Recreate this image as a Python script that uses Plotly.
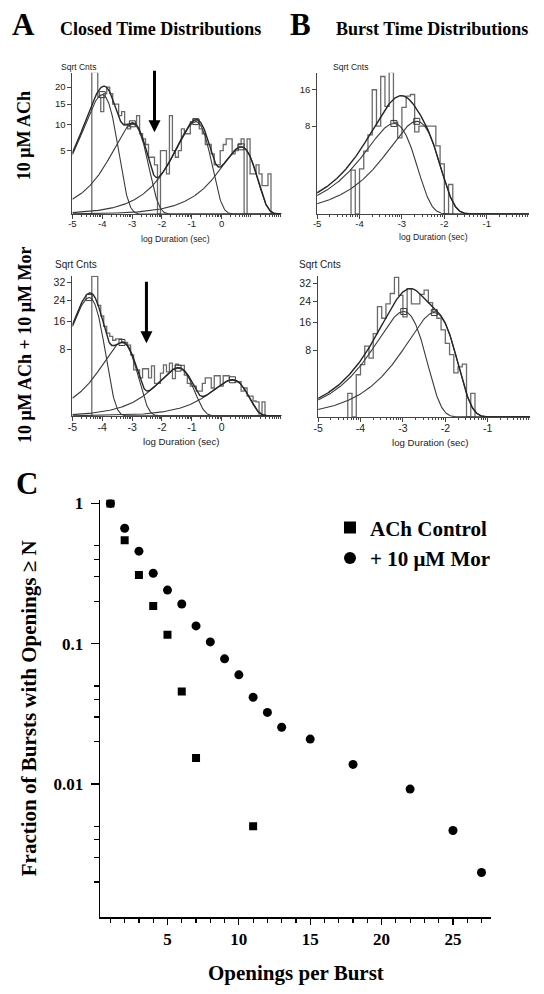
import numpy as np
import plotly.graph_objects as go

W, H = 544, 994
SERIF = "Liberation Serif, Times New Roman, serif"
SANS = "Liberation Sans, Arial, sans-serif"

# ---------------- Data ----------------
BIN_W = 0.1
# Panel A, 10 uM ACh: closed time histogram (counts per bin), bins start at A1_BIN0
A1_BIN0 = -4.35
A1_counts = [25, 25, 17, 13, 18, 20, 18, 15, 15, 12, 13, 10, 9, 10, 10, 12, 8, 7, 6, 4,
             4, 3, 0, 5, 5, 2, 12, 5, 4, 5, 9, 8, 8, 10.6, 11, 11, 9, 8, 6, 6,
             4.5, 3, 3, 5, 6, 7, 7, 4.5, 5, 6, 7, 0, 7, 2, 2, 3, 2, 1, 1, 2]
A1_comp_logtau = [-4.0, -2.99, -0.87, 0.65]
A1_comp_peak = [17.7, 10.1, 10.6, 5.6]

# Panel A, 10 uM ACh + 10 uM Mor
A2_BIN0 = -4.35
A2_counts = [35, 35, 22, 18, 14.4, 12.3, 11.4, 10.3, 10.7, 10.7, 9.7, 9.7, 9, 6.7, 3.8, 3.8, 2.6, 4, 4, 2.6,
             4.5, 1.9, 1.9, 3.3, 4.7, 3.5, 5, 2.5, 4.8, 4.6, 4.6, 3, 1.9, 1.6, 1.6, 1.1, 1.1, 1.9, 2.6, 2.6,
             1.4, 2.9, 2.9, 1.6, 2.9, 2.9, 2.3, 2.3, 2.1, 2.1, 1.1, 1.4, 0.7, 0.7, 0.4, 0.35, 0, 0.35]
A2_comp_logtau = [-4.44, -3.34, -1.46, 0.36]
A2_comp_peak = [25.2, 9.7, 4.1, 2.35]

# Panel B, 10 uM ACh: burst time histogram
B1_BIN0 = -4.2
B1_counts = [2, 0, 2.1, 4.1, 6.5, 16, 8, 19.6, 12, 20.9, 8.7, 6, 11.8, 14.4, 14.8, 7,
             8, 8, 8, 8, 4.8, 2.6, 0, 0.9]
B1_comp_logtau = [-3.19, -2.65]
B1_comp_peak = [8.5, 8.9]

# Panel B, 10 uM ACh + 10 uM Mor
B2_BIN0 = -4.3
B2_counts = [1.0, 0, 3.2, 4.9, 9, 6.2, 12.5, 21.9, 17.5, 23, 27.4, 35, 26.6, 18, 29.6, 23,
             23, 27, 28.9, 23.5, 20, 17.5, 13.6, 9.7, 7, 3.5, 4.5, 5.0, 0, 1.0]
B2_comp_logtau = [-2.98, -2.26]
B2_comp_peak = [20.0, 19.6]

# Panel C: fraction of bursts with openings >= N
C_n_ctrl = [1, 2, 3, 4, 5, 6, 7, 11]
C_f_ctrl = [1.0, 0.547, 0.309, 0.186, 0.116, 0.0457, 0.0153, 0.005]
C_n_mor = [1, 2, 3, 4, 5, 6, 7, 8, 9, 10, 11, 12, 13, 15, 18, 22, 25, 27]
C_f_mor = [1.0, 0.665, 0.457, 0.318, 0.241, 0.192, 0.134, 0.103, 0.078, 0.060,
           0.0415, 0.0324, 0.0254, 0.0209, 0.0138, 0.0092, 0.00466, 0.00234]

A_tick_counts_top = [5, 10, 15, 20]
B_tick_counts_top = [8, 16]
tick_counts_bottom = [8, 16, 24, 32]

# ---------------- helpers ----------------
def px(x):
    return x / W

def py(y):
    return 1 - y / H

HIST_COLOR = "#6a6a6a"
FIT_COLOR = "#3a3a3a"

fig = go.Figure()

def step_xy(bin0, counts):
    counts = np.asarray(counts, dtype=float)
    edges = bin0 + BIN_W * np.arange(len(counts) + 1)
    x = np.concatenate([[edges[0]], edges])
    y = np.concatenate([[0.0], np.sqrt(counts), [0.0]])
    return x, y

def comp_counts(x, m, peak):
    u = 10 ** (x - m)
    return peak * np.e * u * np.exp(-u)

def add_panel(ax, bin0, counts, logtaus, peaks, xmax):
    xa = "x" if ax == 1 else f"x{ax}"
    ya = "y" if ax == 1 else f"y{ax}"
    hx, hy = step_xy(bin0, counts)
    fig.add_trace(go.Scatter(x=hx, y=hy, mode="lines", line=dict(color=HIST_COLOR, width=1.3, shape="hv"),
                             xaxis=xa, yaxis=ya, showlegend=False, hoverinfo="skip"))
    xs = np.linspace(-5, xmax, 400)
    total = np.zeros_like(xs)
    for m, p in zip(logtaus, peaks):
        c = comp_counts(xs, m, p)
        total += c
        fig.add_trace(go.Scatter(x=xs, y=np.sqrt(c), mode="lines", line=dict(color=FIT_COLOR, width=1.1),
                                 xaxis=xa, yaxis=ya, showlegend=False, hoverinfo="skip"))
    fig.add_trace(go.Scatter(x=xs, y=np.sqrt(total), mode="lines", line=dict(color="#262626", width=1.4),
                             xaxis=xa, yaxis=ya, showlegend=False, hoverinfo="skip"))
    fig.add_trace(go.Scatter(x=logtaus, y=np.sqrt(peaks), mode="markers",
                             marker=dict(symbol="square-open", size=6, color=FIT_COLOR, line=dict(width=1)),
                             xaxis=xa, yaxis=ya, showlegend=False, hoverinfo="skip"))

add_panel(1, A1_BIN0, A1_counts, A1_comp_logtau, A1_comp_peak, 2.0)
add_panel(2, B1_BIN0, B1_counts, B1_comp_logtau, B1_comp_peak, 0.0)
add_panel(3, A2_BIN0, A2_counts, A2_comp_logtau, A2_comp_peak, 2.0)
add_panel(4, B2_BIN0, B2_counts, B2_comp_logtau, B2_comp_peak, 0.0)

fig.add_trace(go.Scatter(x=C_n_ctrl, y=C_f_ctrl, mode="markers", name="ACh Control",
                         marker=dict(symbol="square", size=8, color="black"),
                         xaxis="x5", yaxis="y5"))
fig.add_trace(go.Scatter(x=C_n_mor, y=C_f_mor, mode="markers", name="+ 10 \u03bcM Mor",
                         marker=dict(symbol="circle", size=9, color="black"),
                         xaxis="x5", yaxis="y5"))

def log_minor(lo, hi):
    vals = []
    for n in range(lo, hi + 1):
        for k in range(2, 10):
            vals.append(n + np.log10(k))
    return vals

def hist_xaxis(x0, x1, rng, labels, fsize, anchor):
    return dict(domain=[px(x0), px(x1)], range=rng, showline=True, linecolor="#444", linewidth=1,
                ticks="outside", ticklen=4, tickcolor="#444", tickwidth=1,
                tickmode="array", tickvals=labels, ticktext=[str(v) for v in labels],
                tickfont=dict(family=SANS, size=fsize, color="#222"), ticklabelstandoff=-3,
                minor=dict(tickmode="array", tickvals=[v for v in log_minor(-5, 1) if rng[0] < v < rng[1]],
                           ticks="outside", ticklen=2.5, tickcolor="#444", tickwidth=1),
                showgrid=False, zeroline=False, anchor=anchor, fixedrange=True)

def hist_yaxis(ytop_px, ybase_px, scale, tickcounts, fsize, anchor):
    top = (ybase_px - ytop_px) / scale
    return dict(domain=[py(ybase_px), py(ytop_px)], range=[0, top], showline=True, linecolor="#444",
                linewidth=1, ticks="outside", ticklen=4, tickcolor="#444", tickwidth=1,
                tickmode="array", tickvals=list(np.sqrt(tickcounts)), ticktext=[str(v) for v in tickcounts],
                tickfont=dict(family=SANS, size=fsize, color="#222"),
                showgrid=False, zeroline=False, anchor=anchor, fixedrange=True)

lay = dict(
    width=W, height=H, autosize=False, margin=dict(l=0, r=0, t=0, b=0),
    paper_bgcolor="white", plot_bgcolor="white",
    xaxis=hist_xaxis(68, 279, [-5, 2.0], [-5, -4, -3, -2, -1, 0], 9.5, "y"),
    yaxis=hist_yaxis(68, 210, 28.5, A_tick_counts_top, 9.5, "x"),
    xaxis2=hist_xaxis(315, 529, [-5, 0.0], [-5, -4, -3, -2, -1], 9.5, "y2"),
    yaxis2=hist_yaxis(68, 210, 31.2, B_tick_counts_top, 9.5, "x2"),
    xaxis3=hist_xaxis(68, 279, [-5, 2.0], [-5, -4, -3, -2, -1, 0], 10.5, "y3"),
    yaxis3=hist_yaxis(272, 413, 23.7, tick_counts_bottom, 10.5, "x3"),
    xaxis4=hist_xaxis(316, 530, [-5, 0.0], [-5, -4, -3, -2, -1], 10.5, "y4"),
    yaxis4=hist_yaxis(272, 414, 23.7, tick_counts_bottom, 10.5, "x4"),
    xaxis5=dict(domain=[px(96), px(491)], range=[0.28, 27.7], showline=True, linecolor="black", linewidth=1.5,
                ticks="outside", ticklen=6, tickwidth=1.2, tickcolor="black",
                tickmode="array", tickvals=[5, 10, 15, 20, 25],
                tickfont=dict(family=SERIF, size=17, color="black", weight="bold"),
                ticklabelstandoff=0,
                minor=dict(tickmode="array", tickvals=list(range(1, 28)), ticks="outside", ticklen=4,
                           tickwidth=1.2, tickcolor="black"),
                showgrid=False, zeroline=False, anchor="y5", fixedrange=True),
    yaxis5=dict(domain=[py(917), py(497)], type="log", range=[np.log10(0.00112), 0.028],
                showline=True, linecolor="black", linewidth=1.5,
                ticks="outside", ticklen=8, tickwidth=1.2, tickcolor="black",
                tickmode="array", tickvals=[1, 0.1, 0.01], ticktext=["1", "0.1", "0.01"],
                tickfont=dict(family=SERIF, size=17, color="black", weight="bold"),
                ticklabelstandoff=4,
                minor=dict(tickmode="array",
                           tickvals=[k * 10.0 ** e for e in (-3, -2, -1) for k in (2, 3, 4, 5)],
                           ticks="outside", ticklen=5, tickwidth=1.2, tickcolor="black"),
                showgrid=False, zeroline=False, anchor="x5", fixedrange=True),
    legend=dict(x=px(328), y=py(505), xanchor="left", yanchor="top",
                font=dict(family=SERIF, size=21, color="black", weight="bold"),
                bgcolor="rgba(0,0,0,0)", itemsizing="constant", tracegroupgap=0),
    showlegend=True,
)
fig.update_layout(**lay)

ann = []
def text(x, y, s, size, family=SERIF, bold=True, xanchor="left", angle=0, color="black"):
    ann.append(dict(x=px(x), y=py(y), xref="paper", yref="paper", text=s, showarrow=False,
                    xanchor=xanchor, yanchor="middle", textangle=angle,
                    font=dict(family=family, size=size, color=color, weight="bold" if bold else "normal")))

text(5, 20, "A", 31)
text(53, 24, "Closed Time Distributions", 18)
text(286, 20, "B", 31)
text(332, 24, "Burst Time Distributions", 18)
text(9, 481, "C", 31)
text(20, 131, "10 \u03bcM ACh", 18, xanchor="center", angle=-90)
text(20, 341, "10 \u03bcM ACh + 10 \u03bcM Mor", 18, xanchor="center", angle=-90)
text(25, 707, "Fraction of Bursts with Openings \u2265 N", 21, xanchor="center", angle=-90)
text(293.5, 973, "Openings per Burst", 21, xanchor="center")

text(55, 62, "Sqrt Cnts", 8.5, family=SANS, bold=False, color="#222")
text(329, 62, "Sqrt Cnts", 8.5, family=SANS, bold=False, color="#222")
text(48, 261, "Sqrt Cnts", 10, family=SANS, bold=False, color="#222")
text(295, 261, "Sqrt Cnts", 10, family=SANS, bold=False, color="#222")
text(172, 235, "log Duration (sec)", 8.7, family=SANS, bold=False, xanchor="center", color="#222")
text(432, 233, "log Duration (sec)", 8.7, family=SANS, bold=False, xanchor="center", color="#222")
text(178, 439, "log Duration (sec)", 9.7, family=SANS, bold=False, xanchor="center", color="#222")
text(429, 440, "log Duration (sec)", 9.7, family=SANS, bold=False, xanchor="center", color="#222")

# arrows marking the burst-delimiting critical closed time
ann.append(dict(x=-2.25, y=(210 - 128) / 28.5, xref="x", yref="y", ax=0, ay=-63, showarrow=True,
                arrowhead=2, arrowsize=0.8, arrowwidth=3, arrowcolor="black", text=""))
ann.append(dict(x=-2.52, y=(413 - 340) / 23.7, xref="x3", yref="y3", ax=0, ay=-63, showarrow=True,
                arrowhead=2, arrowsize=0.8, arrowwidth=3, arrowcolor="black", text=""))

fig.update_layout(annotations=ann)
fig.write_html("out.html", config={"displayModeBar": False, "staticPlot": True},
               post_script="document.body.style.margin='0';")
